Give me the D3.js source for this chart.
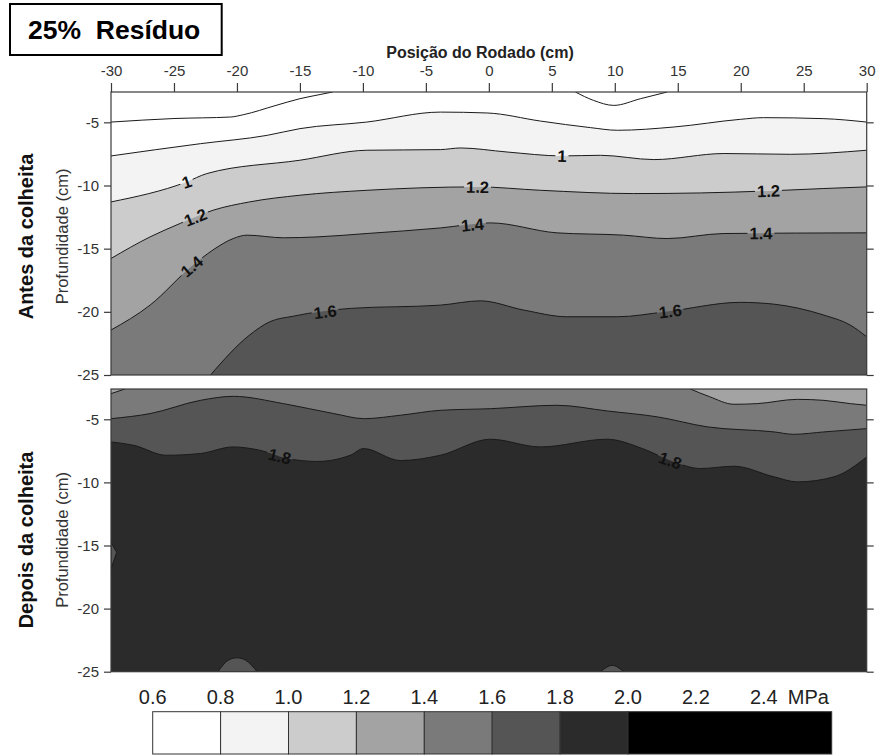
<!DOCTYPE html>
<html><head><meta charset="utf-8">
<script src="https://cdn.jsdelivr.net/npm/d3@7"></script>
<style>body{margin:0;background:#fff} svg{display:block} text{font-family:"Liberation Sans",Arial,sans-serif}</style>
</head><body><svg id="c" width="877" height="755"></svg>
<script>
// ---------- data ----------
const title = "25%  Resíduo";
const xLabel = "Posição do Rodado (cm)";
const yLabel = "Profundidade (cm)";
const panelNames = ["Antes da colheita", "Depois da colheita"];
const xTicks = [-30, -25, -20, -15, -10, -5, 0, 5, 10, 15, 20, 25, 30];
const yTicks = [-5, -10, -15, -20, -25];
const xDomain = [-30, 30];
const yDomain = [-25, -2.6];

const legendBreaks = [0.6, 0.8, 1.0, 1.2, 1.4, 1.6, 1.8, 2.0, 2.6];
const legendColors = ["#ffffff", "#f3f3f3", "#cccccc", "#a3a3a3", "#7a7a7a", "#555555", "#2b2b2b", "#000000"];
const legendLabels = [0.6, 0.8, 1.0, 1.2, 1.4, 1.6, 1.8, 2.0, 2.2, 2.4];
const legendUnit = "MPa";

// contour lines (position cm, depth cm) — Antes da colheita
const antes06a = [[-30,-4.98],[-25,-4.7],[-20.5,-4.58],[-19.5,-4.4],[-16.9,-3.66],[-15,-3.13],[-13.4,-2.8],[-12.4,-2.6]];
const antes06b = [[6.87,-2.6],[8.3,-3.26],[9.92,-3.66],[12.04,-3.13],[14.16,-2.6]];
const antes08 = [[-30,-7.66],[-22.9,-6.69],[-17.6,-6.03],[-15,-5.5],[-9.7,-4.98],[-3.85,-4.19],[-0.14,-4.26],[4.1,-4.9],[8.07,-5.42],[10.2,-5.63],[14.7,-5.37],[20,-4.76],[21.8,-4.63],[26.6,-4.71],[30,-4.98]];
const antes10 = [[-30,-11.3],[-24,-9.72],[-22.4,-9.06],[-15,-8.0],[-9.7,-7.21],[-3.85,-7.16],[-2.26,-7.03],[1.45,-7.35],[5.8,-7.66],[8.87,-7.61],[13.1,-7.95],[18.66,-7.47],[23.96,-7.53],[30,-7.21]];
const antes12 = [[-30,-15.78],[-26.9,-14.07],[-24.5,-13.0],[-21.9,-11.96],[-19,-11.3],[-15,-10.77],[-9.68,-10.38],[-0.94,-10.11],[4.1,-10.38],[11.5,-10.64],[16.8,-10.59],[22.2,-10.43],[26.6,-10.24],[30,-10.11]];
const antes14 = [[-30,-21.44],[-26.9,-19.47],[-23.6,-16.4],[-21.9,-15.1],[-20.3,-14.2],[-19.2,-13.93],[-16.3,-14.14],[-13.65,-14.07],[-9.68,-13.8],[-3.85,-13.36],[0.12,-12.96],[5.42,-13.75],[10.7,-13.93],[14.16,-14.2],[18.66,-13.8],[30,-13.75]];
const antes16 = [[-22.1,-25],[-19,-21.84],[-17.4,-20.79],[-15.5,-20.34],[-11,-19.73],[-3.85,-19.47],[-0.67,-19.13],[2.77,-19.86],[6.22,-20.39],[10.2,-20.39],[14,-20.0],[19.98,-19.25],[22.6,-19.39],[26.6,-20.26],[28.7,-21.05],[30,-21.97]];

// Depois da colheita
const depoisCorner = [[-30,-2.97],[-28.9,-2.6]];
const depois14 = [[16.0,-2.6],[17.5,-3.2],[19.46,-3.81],[21.3,-3.76],[24.5,-3.42],[26.6,-3.5],[28.7,-3.76],[30,-3.89]];
const depois16 = [[-30,-4.95],[-26.9,-4.55],[-22.9,-3.5],[-20.3,-3.18],[-16.3,-3.76],[-12.3,-4.55],[-9.9,-4.95],[-7.03,-4.68],[-3.85,-4.29],[0.12,-4.16],[5.42,-3.89],[9.39,-4.34],[13.4,-4.81],[17.35,-5.6],[22.65,-6.0],[24.2,-6.19],[26.6,-6.0],[30,-5.74]];
const depois18 = [[-30,-6.79],[-28.2,-7.06],[-25.6,-7.85],[-22.9,-7.71],[-20.3,-7.19],[-18.2,-7.45],[-16,-8.1],[-13.65,-8.34],[-11,-7.85],[-9.95,-7.32],[-7.03,-8.27],[-3.85,-7.85],[0.12,-6.58],[4.1,-7.19],[9.39,-6.58],[12.2,-7.32],[14.5,-8.3],[16.8,-8.9],[19.46,-8.72],[22.65,-9.56],[24.5,-9.96],[27.4,-9.56],[30,-7.98]];
const depoisBumpLeft = [[-30,-14.75],[-29.55,-15.54],[-30,-16.88]];
const depoisBumpA = [[-21.5,-25],[-20.7,-24.1],[-20.0,-23.9],[-19.3,-24.1],[-18.4,-25]];
const depoisBumpB = [[8.87,-25],[9.8,-24.5],[10.7,-25]];

// panel definitions (which line, which side is filled, band value)
const antesFills = [
  {line: antes08, side: "below", value: 0.9},
  {line: antes10, side: "below", value: 1.1},
  {line: antes12, side: "below", value: 1.3},
  {line: antes14, side: "below", value: 1.5},
  {line: antes16, side: "below", value: 1.7}
];
const antesLines = [antes06a, antes06b, antes08, antes10, antes12, antes14, antes16];
const antesLabels = [
  {line: antes10, x: -24, text: "1"}, {line: antes10, x: 5.8, text: "1"},
  {line: antes12, x: -23.3, text: "1.2"}, {line: antes12, x: -0.9, text: "1.2"}, {line: antes12, x: 22.2, text: "1.2"},
  {line: antes14, x: -23.6, text: "1.4"}, {line: antes14, x: -1.3, text: "1.4"}, {line: antes14, x: 21.6, text: "1.4"},
  {line: antes16, x: -13, text: "1.6"}, {line: antes16, x: 14.4, text: "1.6"}
];
const depoisFills = [
  {line: depoisCorner, side: "above", value: 1.3},
  {line: depois14, side: "above", value: 1.3},
  {line: depois16, side: "below", value: 1.7},
  {line: depois18, side: "below", value: 1.9},
  {line: depoisBumpA, side: "below", value: 1.7},
  {line: depoisBumpB, side: "below", value: 1.7}
];
const depoisLines = [depoisCorner, depois14, depois16, depois18, depoisBumpA, depoisBumpB];
const depoisLabels = [
  {line: depois18, x: -16.6, text: "1.8"}, {line: depois18, x: 14.4, text: "1.8"}
];

// ---------- drawing ----------
const svg = d3.select("#c");
const color = d3.scaleThreshold().domain(legendBreaks.slice(1, -1)).range(legendColors);
const x = d3.scaleLinear().domain(xDomain).range([111, 866.7]);
const panels = [
  {name: panelNames[0], y: d3.scaleLinear().domain(yDomain).range([375, 92]), base: 0.7, fills: antesFills, lines: antesLines, labels: antesLabels, extra: null, labelY: 236.5},
  {name: panelNames[1], y: d3.scaleLinear().domain(yDomain).range([671.7, 389]), base: 1.5, fills: depoisFills, lines: depoisLines, labels: depoisLabels, extra: depoisBumpLeft, labelY: 540}
];
const fmt = d => String(d);

function interp(line, xv) {
  for (let i = 0; i < line.length - 1; i++) {
    const a = line[i], b = line[i + 1];
    if (xv >= a[0] && xv <= b[0]) return a[1] + (b[1] - a[1]) * (xv - a[0]) / (b[0] - a[0]);
  }
  return line[line.length - 1][1];
}

const defs = svg.append("defs");

panels.forEach((p, pi) => {
  const y = p.y;
  const [x0, x1] = x.range();
  const [yb, yt] = y.range();
  const clipId = "clip" + pi, maskId = "mask" + pi;
  defs.append("clipPath").attr("id", clipId).append("rect")
    .attr("x", x0).attr("y", yt).attr("width", x1 - x0).attr("height", yb - yt);
  const g = svg.append("g");
  const plot = g.append("g").attr("clip-path", `url(#${clipId})`);
  plot.append("rect").attr("x", x0).attr("y", yt).attr("width", x1 - x0).attr("height", yb - yt)
    .attr("fill", color(p.base));

  p.fills.forEach(f => {
    const area = d3.area().curve(d3.curveMonotoneX).x(d => x(d[0])).y1(d => y(d[1]))
      .y0(f.side === "below" ? y(yDomain[0]) : y(yDomain[1]));
    plot.append("path").attr("d", area(f.line)).attr("fill", color(f.value));
  });
  const lineGen = d3.line().curve(d3.curveMonotoneX).x(d => x(d[0])).y(d => y(d[1]));
  if (p.extra) {
    plot.append("path").attr("d", d3.line().x(d => x(d[0])).y(d => y(d[1]))(p.extra) + "Z")
      .attr("fill", color(1.7)).attr("stroke", "#1a1a1a").attr("stroke-width", 1);
  }

  const mask = defs.append("mask").attr("id", maskId).attr("maskUnits", "userSpaceOnUse")
    .attr("x", 0).attr("y", 0).attr("width", 877).attr("height", 755);
  mask.append("rect").attr("x", 0).attr("y", 0).attr("width", 877).attr("height", 755).attr("fill", "#fff");

  const linesG = plot.append("g").attr("mask", `url(#${maskId})`);
  p.lines.forEach(l => {
    linesG.append("path").attr("d", lineGen(l)).attr("fill", "none").attr("stroke", "#1a1a1a").attr("stroke-width", 1);
  });

  p.labels.forEach(lb => {
    const px = x(lb.x), py = y(interp(lb.line, lb.x));
    const xa = x(lb.x - 1.2), ya = y(interp(lb.line, lb.x - 1.2));
    const xb = x(lb.x + 1.2), yb2 = y(interp(lb.line, lb.x + 1.2));
    const ang = Math.atan2(yb2 - ya, xb - xa) * 180 / Math.PI;
    const t = g.append("text").attr("transform", `translate(${px},${py}) rotate(${ang})`)
      .attr("text-anchor", "middle").attr("dy", "0.36em")
      .attr("font-size", 16.5).attr("font-weight", "bold").attr("fill", "#111").text(lb.text);
    const w = t.node().getComputedTextLength() + 4;
    mask.append("rect").attr("transform", `translate(${px},${py}) rotate(${ang})`)
      .attr("x", -w / 2).attr("y", -6).attr("width", w).attr("height", 12).attr("fill", "#000");
  });

  // border
  g.append("rect").attr("x", x0).attr("y", yt).attr("width", x1 - x0).attr("height", yb - yt)
    .attr("fill", "none").attr("stroke", "#3a3a3a").attr("stroke-width", 1.2);

  // axes
  const left = g.append("g").attr("transform", `translate(${x0},0)`)
    .call(d3.axisLeft(y).tickValues(yTicks).tickFormat(fmt).tickSize(7).tickPadding(5).tickSizeOuter(0));
  const right = g.append("g").attr("transform", `translate(${x1},0)`)
    .call(d3.axisRight(y).tickValues(yTicks).tickSize(7).tickFormat("").tickSizeOuter(0));
  [left, right].forEach(a => {
    a.select(".domain").remove();
    a.selectAll("line").attr("stroke", "#3a3a3a").attr("stroke-width", 1.2);
    a.selectAll("text").attr("font-size", 15).attr("fill", "#333").attr("font-family", '"Liberation Sans", Arial, sans-serif');
  });
  if (pi === 0) {
    const top = g.append("g").attr("transform", `translate(0,${yt})`)
      .call(d3.axisTop(x).tickValues(xTicks).tickFormat(fmt).tickSize(9).tickPadding(7).tickSizeOuter(0));
    top.select(".domain").remove();
    top.selectAll("line").attr("stroke", "#3a3a3a").attr("stroke-width", 1.2);
    top.selectAll("text").attr("font-size", 15).attr("fill", "#333").attr("font-family", '"Liberation Sans", Arial, sans-serif');
  }

  g.append("text").attr("transform", `translate(33,${p.labelY}) rotate(-90)`)
    .attr("text-anchor", "middle").attr("font-size", 20).attr("font-weight", "bold").attr("fill", "#111").text(p.name);
  g.append("text").attr("transform", `translate(68,${p.labelY}) rotate(-90)`)
    .attr("text-anchor", "middle").attr("font-size", 16.5).attr("fill", "#333").text(yLabel);
});

// x axis title
svg.append("text").attr("x", 480).attr("y", 58).attr("text-anchor", "middle")
  .attr("font-size", 16).attr("font-weight", "bold").attr("fill", "#222").text(xLabel);

// title box
svg.append("rect").attr("x", 10).attr("y", 4).attr("width", 211.7).attr("height", 51)
  .attr("fill", "#fff").attr("stroke", "#000").attr("stroke-width", 2);
svg.append("text").attr("x", 28).attr("y", 39).attr("font-size", 26.5).attr("font-weight", "bold")
  .attr("fill", "#000").attr("xml:space", "preserve").style("white-space", "pre").text(title);

// legend
const lx = d3.scaleLinear().domain([0.6, 2.6]).range([152.7, 831.7]);
const lg = svg.append("g");
legendColors.forEach((c, i) => {
  lg.append("rect").attr("x", lx(legendBreaks[i])).attr("y", 711.7)
    .attr("width", lx(legendBreaks[i + 1]) - lx(legendBreaks[i])).attr("height", 42.3)
    .attr("fill", c).attr("stroke", "#333").attr("stroke-width", 1);
});
legendLabels.forEach(v => {
  lg.append("text").attr("x", lx(v)).attr("y", 704).attr("text-anchor", "middle")
    .attr("font-size", 20).attr("fill", "#222").text(v.toFixed(1));
});
lg.append("text").attr("x", lx(2.4) + 24).attr("y", 704).attr("font-size", 20).attr("fill", "#222").text(legendUnit);
</script></body></html>
